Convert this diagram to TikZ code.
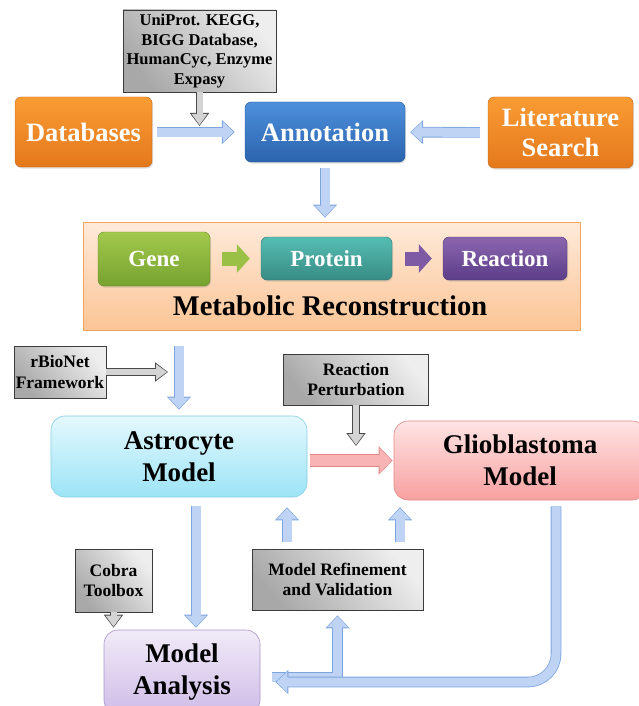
\documentclass[tikz,border=0pt]{standalone}
\usepackage{fontspec}
\setmainfont{Liberation Serif}
\usetikzlibrary{arrows.meta, shadows}

\begin{document}
\begin{tikzpicture}[
    x=1pt, y=-1pt,
    every node/.style={font=\bfseries, align=center, inner sep=0pt},
]

% ---------------------------------------------------------------- colours
\definecolor{orangetop}{HTML}{FA9C34}
\definecolor{orangebot}{HTML}{E4781C}
\definecolor{bluetop}{HTML}{4E90DC}
\definecolor{bluebot}{HTML}{2B63AE}
\definecolor{greentop}{HTML}{A3C94C}
\definecolor{greenbot}{HTML}{76A22F}
\definecolor{tealtop}{HTML}{55BDB3}
\definecolor{tealbot}{HTML}{388C85}
\definecolor{purpletop}{HTML}{8B66AF}
\definecolor{purplebot}{HTML}{5C3D88}
\definecolor{astrotop}{HTML}{E4F8FD}
\definecolor{astrobot}{HTML}{9CE4F6}
\definecolor{astroedge}{HTML}{86CDE2}
\definecolor{gliotop}{HTML}{FFE4E4}
\definecolor{gliobot}{HTML}{F7A0A0}
\definecolor{glioedge}{HTML}{E38888}
\definecolor{anatop}{HTML}{F1EBF8}
\definecolor{anabot}{HTML}{CFBCE7}
\definecolor{anaedge}{HTML}{AA94C8}
\definecolor{metatop}{HTML}{FEEADA}
\definecolor{metabot}{HTML}{FBC596}
\definecolor{metaedge}{HTML}{F3A35C}
\definecolor{graydark}{HTML}{A8A8A8}
\definecolor{graylight}{HTML}{EEEEEE}
\definecolor{grayedge}{HTML}{3C3C3C}
\definecolor{flowfill}{HTML}{BFD4F5}
\definecolor{flowedge}{HTML}{7DA4DF}
\definecolor{pinkfill}{HTML}{F8B4B4}
\definecolor{pinkedge}{HTML}{E28686}
\definecolor{hollowfill}{HTML}{D4D4D4}
\definecolor{hollowedge}{HTML}{4A4A4A}

\tikzset{
    colorbox/.style 2 args={rounded corners=6pt, top color=#1, bottom color=#2,
        draw=#2!85!black, line width=0.4pt, text=white,
        drop shadow={opacity=0.25, shadow xshift=1pt, shadow yshift=-1.5pt}},
    lightbox/.style n args={3}{rounded corners=14pt, top color=#1, bottom color=#2,
        draw=#3, line width=0.6pt, text=black,
        font=\bfseries\fontsize{27}{32}\selectfont},
    graybox/.style={top color=graylight, bottom color=graydark, shading angle=-50,
        draw=grayedge, line width=0.7pt, font=\bfseries\fontsize{17.5}{20.5}\selectfont},
    bigtext/.style={font=\bfseries\fontsize{26.5}{30}\selectfont},
    smalltext/.style={font=\bfseries\fontsize{23}{26}\selectfont},
    flow/.style={line width=9pt, draw=flowfill,
        -{Triangle[length=11pt, width=20pt, sep=1pt]},
        preaction={draw=flowedge, line width=10.6pt, -{Triangle[length=13pt, width=23.5pt]}}},
    pinkflow/.style={line width=11pt, draw=pinkfill,
        -{Triangle[length=12pt, width=24pt, sep=1pt]},
        preaction={draw=pinkedge, line width=12.6pt, -{Triangle[length=14pt, width=27.5pt]}}},
    hollow/.style={line width=6pt, draw=hollowfill,
        -{Triangle[length=11pt, width=15pt, sep=1pt]},
        preaction={draw=hollowedge, line width=7.8pt, -{Triangle[length=13pt, width=18.5pt]}}},
    chain/.style={line width=14pt, draw=#1, -{Triangle[length=13pt, width=28pt]}},
}

\useasboundingbox (0,0) rectangle (638,706);

% ================================================================
% top row: sources feeding the annotation step
% ================================================================
\node[graybox, font=\bfseries\fontsize{16.5}{19.5}\selectfont,
    minimum width=153pt, minimum height=82pt] (src) at (199.5,51)
    {UniProt. KEGG,\\BIGG Database,\\HumanCyc, Enzyme\\Expasy};
\coordinate (srctip) at (199.5,126);

\node[colorbox={orangetop}{orangebot}, bigtext, minimum width=137pt, minimum height=70pt]
    (db) at (83.5,132) {Databases};
\node[colorbox={bluetop}{bluebot}, bigtext, minimum width=160pt, minimum height=60pt]
    (ann) at (325,132) {Annotation};
\node[colorbox={orangetop}{orangebot}, bigtext, minimum width=145pt, minimum height=71pt]
    (lit) at (560.5,132.5) {Literature\\Search};

\draw[hollow] (src.south) -- (srctip);
\draw[flow, shorten <=5pt, shorten >=10pt] (db) -- (ann);
\draw[flow, shorten <=8pt, shorten >=5pt] (lit) -- (ann);

% ================================================================
% metabolic reconstruction panel
% ================================================================
\node[top color=metatop, bottom color=metabot, draw=metaedge, line width=0.8pt,
    minimum width=497pt, minimum height=108pt] (meta) at (331.5,276) {};
\node[font=\bfseries\fontsize{28.5}{32}\selectfont] (metatitle) at (330,306)
    {Metabolic Reconstruction};

\node[colorbox={greentop}{greenbot}, smalltext, minimum width=112pt, minimum height=54pt]
    (gene) at (154,259) {Gene};
\node[colorbox={tealtop}{tealbot}, smalltext, minimum width=131pt, minimum height=43pt]
    (protein) at (326.5,258.5) {Protein};
\node[colorbox={purpletop}{purplebot}, smalltext, minimum width=124pt, minimum height=43pt]
    (reaction) at (505,258.5) {Reaction};

\draw[chain=greentop!80!greenbot, shorten <=12pt, shorten >=11pt]
    (gene.east |- protein.west) -- (protein.west);
\draw[chain=purpletop!70!purplebot, shorten <=13pt, shorten >=11pt]
    (protein.east) -- (reaction.west);

\draw[flow, shorten <=6pt, shorten >=4pt] (ann.south) -- (ann.south |- meta.north);

% ================================================================
% the two models
% ================================================================
\node[graybox, minimum width=92pt, minimum height=52pt] (rbio) at (60,372)
    {rBioNet\\Framework};
\coordinate (rbiotip) at (168,372);
\node[graybox, minimum width=145pt, minimum height=51pt] (pert) at (356,379.5)
    {Reaction\\Perturbation};
\coordinate (perttip) at (356,446);

\node[lightbox={astrotop}{astrobot}{astroedge}, minimum width=256pt, minimum height=81pt]
    (astro) at (179,456.5) {Astrocyte\\Model};
\node[lightbox={gliotop}{gliobot}{glioedge}, minimum width=252pt, minimum height=79pt]
    (glio) at (520,460.5) {Glioblastoma\\Model};

\draw[flow, shorten <=16pt, shorten >=6pt] (meta.south -| astro.north) -- (astro.north);
\draw[hollow] (rbio.east) -- (rbiotip);
\draw[hollow] (pert.south) -- (perttip);
\draw[pinkflow, shorten <=3pt, shorten >=1pt] (astro.east |- glio.west) -- (glio.west);

% ================================================================
% analysis and refinement loop
% ================================================================
\node[graybox, minimum width=77pt, minimum height=63pt] (cobra) at (113.5,580.5)
    {Cobra\\Toolbox};
\node[graybox, minimum width=171pt, minimum height=61pt] (refine) at (337.5,579.5)
    {Model Refinement\\and Validation};
\node[lightbox={anatop}{anabot}{anaedge}, minimum width=156pt, minimum height=84pt]
    (analysis) at (182,672) {Model\\Analysis};

\draw[hollow, shorten >=2pt] (cobra.south) -- (cobra.south |- analysis.north);
\draw[flow, shorten <=9pt, shorten >=2pt]
    ([xshift=17pt]astro.south) -- ([xshift=14pt]analysis.north);
\draw[flow, shorten <=7pt, shorten >=10pt]
    ([xshift=-50.5pt]refine.north) -- ([xshift=-50.5pt]refine.north |- astro.south);
\draw[flow, shorten <=7pt, shorten >=7pt]
    ([xshift=62.5pt]refine.north) -- ([xshift=62.5pt]refine.north |- glio.south);
\draw[flow, shorten <=12pt, shorten >=5pt]
    ([yshift=-5pt]analysis.east) -| (refine.south);
\draw[flow, rounded corners=28pt, shorten <=6pt, shorten >=15pt]
    ([xshift=36pt]glio.south) |- ([yshift=-10pt]analysis.east);

\end{tikzpicture}
\end{document}
